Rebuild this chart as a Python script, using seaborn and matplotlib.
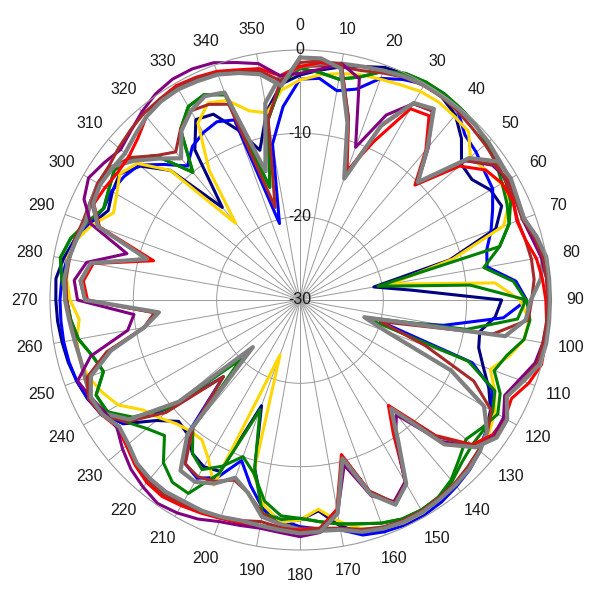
import numpy as np
import pandas as pd
import seaborn as sns
import matplotlib
matplotlib.use("Agg")
import matplotlib.pyplot as plt

# angle grid (degrees, clockwise from top), one value every 5 degrees
theta_deg = list(range(0, 360, 5))

# gain values in dB
navy_db = [-3.0, -2.3, -1.6, -1.0, -0.3, -0.1, 0.0, -0.3, -1.0, -2.6, -4.7, -4.8,
           -3.6, -3.3, -5.0, -11.4, -21.0, -16.5, -5.8, -6.5, -8.1, -7.8, -6.6, -5.0,
           -3.6, -2.7, -2.0, -1.5, -1.0, -0.6, -0.4, -0.3, -0.5, -1.0, -2.5, -4.6,
           -3.6, -3.2, -4.5, -9.0, -16.5, -7.3, -6.9, -7.5, -9.0, -9.4, -7.5, -4.1,
           -2.7, -1.9, -1.5, -1.2, -1.0, -0.8, -0.7, -0.6, -1.2, -2.0, -3.4, -4.6,
           -4.0, -3.6, -5.0, -8.0, -15.5, -8.0, -5.0, -5.4, -8.3, -11.4, -7.0, -4.0]
blue_db = [-3.5, -3.3, -4.5, -3.8, -1.7, -0.8, -0.1, 0.1, -0.5, -2.0, -2.4, -3.0,
           -3.3, -4.5, -5.6, -6.8, -7.2, -4.0, -2.8, -5.5, -12.5, -20.0, -8.0, -4.6,
           -3.3, -2.7, -1.8, -1.2, -0.8, -0.4, -0.2, -0.2, -0.4, -0.8, -2.0, -2.4,
           -2.8, -3.5, -4.5, -7.0, -9.5, -6.5, -5.3, -6.0, -9.0, -17.0, -10.0, -4.2,
           -2.5, -1.9, -1.5, -1.3, -1.2, -1.2, -1.2, -1.3, -1.6, -2.0, -3.2, -4.0,
           -3.9, -4.2, -4.8, -7.0, -9.0, -7.5, -6.8, -6.4, -7.0, -20.5, -11.0, -6.7]
gold_db = [-3.6, -2.9, -2.4, -2.0, -1.8, -1.5, -1.1, -1.0, -1.2, -1.4, -3.3, -2.8,
           -2.1, -2.3, -4.0, -11.0, -19.0, -6.5, -3.6, -2.4, -2.7, -4.0, -5.7, -4.2,
           -3.0, -2.3, -2.0, -1.5, -1.2, -0.8, -0.5, -0.5, -0.8, -1.6, -3.0, -4.8,
           -3.6, -3.2, -5.0, -8.5, -23.0, -5.5, -8.0, -9.5, -9.5, -9.0, -8.0, -7.0,
           -4.8, -3.8, -3.0, -2.6, -2.8, -3.4, -2.4, -1.9, -1.6, -2.2, -3.5, -5.3,
           -4.6, -3.6, -4.5, -8.0, -18.0, -11.0, -5.5, -3.9, -4.5, -6.5, -7.2, -4.7]
green_db = [-2.2, -2.6, -3.1, -2.3, -0.8, 0.0, 0.2, 0.2, 0.0, -0.2, -0.8, -1.3,
            -2.0, -2.6, -3.3, -5.2, -20.5, -9.5, -2.8, -2.3, -2.7, -4.3, -5.2, -3.5,
            -2.6, -3.3, -4.0, -3.0, -1.8, -1.1, -0.9, -1.0, -1.5, -2.2, -2.7, -3.3,
            -3.8, -4.0, -5.5, -8.5, -10.0, -8.0, -6.5, -7.5, -10.0, -20.0, -10.0, -5.5,
            -3.2, -3.0, -4.9, -4.2, -3.0, -2.4, -2.0, -1.3, -0.8, -1.5, -2.8, -4.0,
            -3.5, -2.8, -3.6, -5.5, -10.0, -5.0, -3.2, -2.8, -3.8, -16.0, -8.0, -3.9]
green2_db = [-2.2, -2.6, -3.1, -2.3, -0.8, 0.0, 0.2, 0.2, 0.0, -0.2, -0.8, -1.3,
             -1.5, -2.1, -3.3, -5.2, -7.6, -4.3, -2.9, -3.8, -9.7, -22.0, -8.5, -4.2,
             -3.3, -3.0, -3.0, -2.5, -1.6, -1.0, -0.9, -1.0, -1.5, -2.2, -2.7, -3.3,
             -3.8, -3.6, -4.0, -9.0, -16.0, -7.0, -3.2, -3.3, -4.5, -7.0, -6.0, -4.5,
             -3.3, -3.0, -4.9, -4.2, -3.0, -2.4, -2.0, -1.3, -0.8, -1.5, -2.8, -4.0,
             -3.5, -2.8, -3.6, -5.5, -10.0, -5.0, -3.2, -2.8, -3.8, -16.0, -8.0, -3.9]
brown_a_db = [-2.0, -1.8, -1.6, -1.5, -1.0, -0.5, -0.3, -0.3, -0.5, -0.8, -1.0, -1.2,
              -1.5, -1.8, -2.2, -2.0, -1.8, -1.8, -2.2, -2.5, -6.5, -20.0, -14.0, -7.0,
              -3.5, -2.5, -2.0, -1.6, -1.2, -1.0, -0.8, -0.8, -1.0, -1.5, -2.2, -2.5,
              -2.6, -3.0, -4.0, -6.0, -7.0, -6.0, -5.5, -6.0, -10.0, -17.0, -9.0, -4.5,
              -2.5, -2.3, -2.5, -2.7, -2.6, -2.3, -2.0, -1.8, -1.9, -2.0, -2.3, -2.2,
              -2.0, -2.4, -3.4, -5.5, -6.8, -5.0, -3.8, -4.1, -5.0, -18.5, -8.0, -3.5]
gray_a_db = [-2.0, -1.5, -1.2, -1.0, -0.7, -0.4, -0.2, -0.2, -0.2, -0.3, -0.5, -0.8,
             -0.9, -1.3, -1.4, -0.8, -0.4, -1.0, -2.3, -2.8, -5.0, -22.0, -19.0, -10.0,
             -4.5, -2.6, -1.8, -1.3, -1.0, -0.8, -0.6, -0.6, -0.8, -1.2, -2.0, -2.2,
             -2.4, -3.0, -3.6, -6.0, -7.3, -5.7, -4.8, -5.0, -9.0, -22.0, -11.0, -5.0,
             -2.8, -2.3, -2.6, -2.7, -2.5, -2.2, -1.8, -1.6, -1.8, -2.2, -2.6, -2.3,
             -2.0, -2.2, -4.0, -6.0, -7.8, -5.2, -3.8, -3.0, -3.5, -14.0, -6.0, -3.0]
red_db = [-2.0, -1.4, -1.5, -7.5, -13.5, -9.0, -3.5, -3.0, -6.5, -10.5, -5.0, -2.8,
          -2.0, -1.8, -2.3, -2.0, -1.2, -0.8, -0.5, -0.3, -0.1, 0.0, -0.8, -2.0,
          -1.6, -1.8, -3.0, -7.0, -13.5, -10.5, -4.5, -3.2, -5.5, -10.8, -4.5, -2.5,
          -2.4, -2.5, -2.5, -2.3, -2.1, -1.8, -1.5, -1.2, -1.4, -2.0, -2.8, -3.3,
          -2.5, -2.0, -3.0, -6.2, -11.0, -12.5, -4.5, -3.9, -4.8, -11.8, -4.4, -2.7,
          -3.0, -3.3, -3.2, -2.5, -1.3, -0.6, -0.3, -0.5, -0.8, -1.4, -1.8, -3.0]
purple_db = [-2.8, -2.2, -1.2, -2.5, -10.5, -5.5, -2.8, -2.3, -6.0, -10.0, -4.0, -1.8,
             -1.2, -1.3, -1.6, -1.2, -0.6, -0.3, -0.2, -0.2, -0.4, -0.8, -2.0, -2.9,
             -1.8, -1.6, -2.5, -6.0, -12.0, -10.0, -4.8, -3.3, -5.0, -9.5, -4.0, -2.0,
             -1.6, -2.0, -2.2, -2.0, -1.7, -1.0, -0.5, -0.2, -0.7, -1.3, -2.2, -3.2,
             -3.0, -2.3, -1.6, -4.0, -9.0, -10.0, -3.3, -2.8, -4.0, -8.5, -3.3, -1.4,
             -0.7, -1.3, -1.9, -1.3, -0.5, 0.2, 0.6, 0.6, 0.3, -0.5, -1.2, -3.0]
brown_b_db = [-1.5, -1.2, -1.3, -7.5, -14.0, -7.0, -2.8, -2.3, -6.3, -10.3, -4.0, -1.6,
              -1.2, -1.5, -1.6, -0.9, -0.4, -0.3, -0.3, -0.3, -0.4, -0.5, -1.6, -2.7,
              -1.4, -1.4, -2.7, -6.8, -13.0, -10.0, -4.6, -3.1, -5.6, -10.5, -4.2, -2.5,
              -2.2, -2.6, -3.0, -2.6, -2.3, -2.0, -1.8, -1.5, -1.7, -2.2, -3.0, -3.5,
              -2.5, -2.0, -2.8, -6.0, -11.0, -12.5, -4.2, -3.5, -4.5, -11.0, -4.2, -2.4,
              -2.0, -2.0, -1.6, -1.2, -0.8, -0.6, -0.5, -0.6, -1.0, -1.6, -2.1, -3.6]
gray_b_db = [-0.9, -0.9, -1.8, -8.0, -14.5, -6.8, -2.7, -2.0, -6.2, -10.0, -3.5, -1.0,
             -0.8, -1.2, -1.4, -0.6, 0.0, 0.0, 0.0, 0.0, 0.0, -0.2, -1.5, -2.6,
             -1.3, -1.2, -2.5, -5.5, -13.0, -9.5, -4.5, -2.9, -5.2, -10.3, -4.0, -2.1,
             -2.0, -2.3, -2.5, -2.6, -2.3, -2.1, -2.1, -1.9, -2.0, -2.3, -3.1, -3.5,
             -2.6, -2.3, -3.3, -6.5, -11.0, -13.0, -4.2, -3.6, -4.5, -11.0, -4.2, -2.6,
             -2.3, -2.5, -2.6, -2.0, -1.3, -0.9, -0.8, -1.0, -1.2, -1.8, -2.5, -4.2]

angle_labels = [str(a) for a in range(0, 360, 10)]
ring_values = [-30, -20, -10, 0]

series = [
    ("navy", navy_db, "#000080", 2.2),
    ("blue", blue_db, "#0000ff", 2.2),
    ("gold", gold_db, "#ffd700", 2.2),
    ("green2", green2_db, "#008000", 2.2),
    ("green", green_db, "#008000", 2.2),
    ("brown_a", brown_a_db, "#a52a2a", 2.2),
    ("gray_a", gray_a_db, "#808080", 3.0),
    ("red", red_db, "#ff0000", 2.2),
    ("purple", purple_db, "#800080", 2.2),
    ("brown_b", brown_b_db, "#a52a2a", 2.2),
    ("gray_b", gray_b_db, "#808080", 3.0),
]

sns.set_theme(style="white")
plt.rcParams['font.family'] = ['Liberation Sans', 'DejaVu Sans']

fig = plt.figure(figsize=(6, 6), dpi=100)
ax = fig.add_axes([50 / 600, 50 / 600, 500 / 600, 500 / 600], projection='polar')
ax.set_theta_zero_location('N')
ax.set_theta_direction(-1)

for name, vals, col, lw in series:
    assert len(vals) == len(theta_deg), name
    df = pd.DataFrame({
        'theta': np.deg2rad(theta_deg + [360]),
        'db': vals + vals[:1],
    })
    sns.lineplot(data=df, x='theta', y='db', ax=ax, color=col, linewidth=lw,
                 sort=False, estimator=None, clip_on=False)

ax.set_ylim(-30, 0)
ax.set_xticks(np.deg2rad(range(0, 360, 10)))
ax.set_xticklabels([])
ax.set_yticks([-20, -10])
ax.set_yticklabels([])
ax.grid(True, color='#9a9a9a', linewidth=0.7)
ax.spines['polar'].set_color('#9a9a9a')
ax.spines['polar'].set_linewidth(0.8)
ax.set_xlabel('')
ax.set_ylabel('')

for a, lab in zip(range(0, 360, 10), angle_labels):
    ax.text(np.deg2rad(a), 3.0, lab, ha='center', va='center',
            fontsize=11.5, color='#1a1a1a', clip_on=False)

for v in ring_values:
    ax.text(0, v, str(v), ha='center', va='center', fontsize=11.5,
            color='#1a1a1a', clip_on=False)

fig.savefig("out.png", dpi=100)
